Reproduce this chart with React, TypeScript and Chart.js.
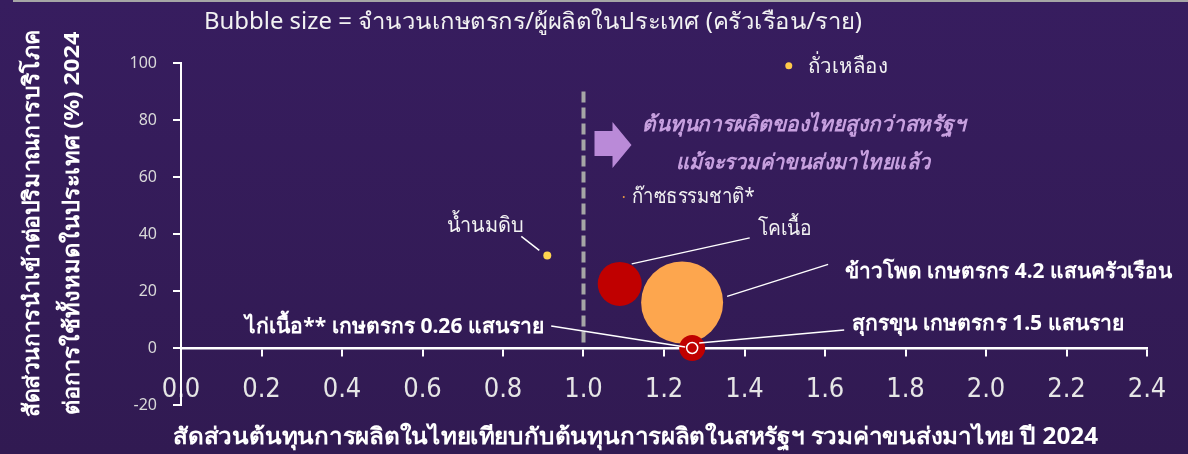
import React, { useEffect, useRef } from 'react';
import { Chart, registerables } from 'chart.js';

Chart.register(...registerables);

// ---------- data ----------
const itemNames = ['ถั่วเหลือง', 'น้ำนมดิบ', 'ก๊าซธรรมชาติ*', 'โคเนื้อ', 'ข้าวโพด', 'สุกรขุน', 'ไก่เนื้อ'];
const costRatio = [1.51, 0.91, 1.10, 1.09, 1.245, 1.27, 1.27];
const importShare = [99, 32.5, 53, 22.5, 16, 0, 0];
const bubbleRadius = [3.5, 4, 1, 22, 41, 13, 5.5];
const bubbleColors = ['#FFC94A', '#FFD54F', '#F0A040', '#C00000', '#FDA64E', '#C00000', '#C00000'];
const bubbleBorders = [0, 0, 0, 0, 0, 0, 1.5];

const xMin = 0, xMax = 2.4, xStep = 0.2;
const yMin = -20, yMax = 100, yStep = 20;
const thresholdX = 1.0;
const thresholdYRange = [1, 90];

const chartTitle = 'Bubble size = จำนวนเกษตรกร/ผู้ผลิตในประเทศ (ครัวเรือน/ราย)';
const yTitleLines = ['สัดส่วนการนำเข้าต่อปริมาณการบริโภค', 'ต่อการใช้ทั้งหมดในประเทศ (%) 2024'];
const xTitle = 'สัดส่วนต้นทุนการผลิตในไทยเทียบกับต้นทุนการผลิตในสหรัฐฯ รวมค่าขนส่งมาไทย ปี 2024';
const noteLines = ['ต้นทุนการผลิตของไทยสูงกว่าสหรัฐฯ', 'แม้จะรวมค่าขนส่งมาไทยแล้ว'];

// label text per point (display text), with layout offsets (pixels from point centre)
const pointLabels = [
  { text: 'ถั่วเหลือง', dx: 19, dy: 1, align: 'left', bold: false, w: 80, leader: null },
  { text: 'น้ำนมดิบ', dx: -62, dy: -29, align: 'center', bold: false, w: 77, leader: [-26, -19, -8, -5] },
  { text: 'ก๊าซธรรมชาติ*', dx: 8, dy: 0, align: 'left', bold: false, w: 123, leader: null },
  { text: 'โคเนื้อ', dx: 138, dy: -55, align: 'left', bold: false, w: 54, leader: [130, -46, 12, -20] },
  { text: 'ข้าวโพด เกษตรกร 4.2 แสนครัวเรือน', dx: 163, dy: -30, align: 'left', bold: true, w: 327, leader: [146, -38, 45, -6] },
  { text: 'สุกรขุน เกษตรกร 1.5 แสนราย', dx: 160, dy: -24, align: 'left', bold: true, w: 272, leader: [152, -18, 7, -5] },
  { text: 'ไก่เนื้อ** เกษตรกร 0.26 แสนราย', dx: -148, dy: -21, align: 'right', bold: true, w: 299, leader: [-141, -22, -7, -1] },
];

const FONT = '"Noto Sans", "Liberation Sans", sans-serif';

function fitText(ctx: CanvasRenderingContext2D, text: string, x: number, y: number, w: number, align: CanvasTextAlign) {
  const m = ctx.measureText(text).width || 1;
  const s = w / m;
  ctx.save();
  ctx.translate(x, y);
  ctx.scale(s, 1);
  ctx.textAlign = align;
  ctx.fillText(text, 0, 0);
  ctx.restore();
}

const decorPlugin = {
  id: 'decor',
  beforeDraw(chart: any) {
    const { ctx, width, height } = chart;
    ctx.save();
    const g = ctx.createLinearGradient(0, 0, 0, height);
    g.addColorStop(0, '#371D5F');
    g.addColorStop(1, '#311A52');
    ctx.fillStyle = g;
    ctx.fillRect(0, 0, width, height);
    ctx.fillStyle = '#A6A6A6';
    ctx.fillRect(13, 0, width - 13, 2);
    ctx.restore();
  },
  beforeDatasetsDraw(chart: any) {
    const { ctx } = chart;
    const xs = chart.scales.x, ys = chart.scales.y;
    const px = xs.getPixelForValue(thresholdX);
    ctx.save();
    ctx.strokeStyle = '#A6A6A6';
    ctx.lineWidth = 4;
    ctx.setLineDash([11, 5]);
    ctx.beginPath();
    ctx.moveTo(px, ys.getPixelForValue(thresholdYRange[1]));
    ctx.lineTo(px, ys.getPixelForValue(thresholdYRange[0]));
    ctx.stroke();
    ctx.restore();
  },
  afterDraw(chart: any) {
    const { ctx } = chart;
    const xs = chart.scales.x, ys = chart.scales.y;
    ctx.save();
    ctx.textBaseline = 'middle';

    // top title
    ctx.fillStyle = '#F2F2F2';
    ctx.font = `23px ${FONT}`;
    fitText(ctx, chartTitle, 204, 22, 658, 'left');

    // y title (rotated)
    ctx.save();
    ctx.translate(0, 223);
    ctx.rotate(-Math.PI / 2);
    ctx.font = `bold 22px ${FONT}`;
    ctx.fillStyle = '#FFFFFF';
    fitText(ctx, yTitleLines[0], 0, 33, 388, 'center');
    fitText(ctx, yTitleLines[1], 0, 73, 383, 'center');
    ctx.restore();

    // x title
    ctx.font = `bold 23px ${FONT}`;
    ctx.fillStyle = '#FFFFFF';
    fitText(ctx, xTitle, 173, 437, 925, 'left');

    // note arrow + text
    const px1 = xs.getPixelForValue(thresholdX);
    const ax = px1 + 11;
    ctx.fillStyle = '#BA8AD8';
    ctx.beginPath();
    ctx.moveTo(ax, 131);
    ctx.lineTo(ax + 18, 131);
    ctx.lineTo(ax + 18, 122);
    ctx.lineTo(ax + 37, 145);
    ctx.lineTo(ax + 18, 168);
    ctx.lineTo(ax + 18, 156);
    ctx.lineTo(ax, 156);
    ctx.closePath();
    ctx.fill();
    ctx.fillStyle = '#C7A0DF';
    ctx.font = `italic bold 21px ${FONT}`;
    fitText(ctx, noteLines[0], 804, 125, 324, 'center');
    fitText(ctx, noteLines[1], 803, 163, 255, 'center');

    // point labels & leaders
    ctx.strokeStyle = '#FFFFFF';
    ctx.lineWidth = 1.5;
    pointLabels.forEach((lab, i) => {
      const cx = xs.getPixelForValue(costRatio[i]);
      const cy = ys.getPixelForValue(importShare[i]);
      if (lab.leader) {
        ctx.beginPath();
        ctx.moveTo(cx + lab.leader[0], cy + lab.leader[1]);
        ctx.lineTo(cx + lab.leader[2], cy + lab.leader[3]);
        ctx.stroke();
      }
      ctx.fillStyle = lab.bold ? '#FFFFFF' : '#F2F2F2';
      ctx.font = `${lab.bold ? 'bold ' : ''}21px ${FONT}`;
      fitText(ctx, lab.text, cx + lab.dx, cy + lab.dy, lab.w, lab.align as CanvasTextAlign);
    });
    ctx.restore();
  },
};

export default function App() {
  const ref = useRef<HTMLCanvasElement>(null);
  useEffect(() => {
    if (!ref.current) return;
    const chart = new Chart(ref.current, {
      type: 'bubble',
      data: {
        datasets: [
          {
            label: 'items',
            data: itemNames.map((n, i) => ({ x: costRatio[i], y: importShare[i], r: bubbleRadius[i] })),
            backgroundColor: bubbleColors,
            borderColor: '#FFFFFF',
            borderWidth: bubbleBorders,
            clip: false,
          } as any,
        ],
      },
      options: {
        animation: false,
        responsive: false,
        events: [],
        layout: { padding: { top: 63, bottom: 49, right: 38, left: 0 } },
        plugins: { legend: { display: false }, tooltip: { enabled: false }, title: { display: false } },
        scales: {
          x: {
            type: 'linear',
            min: xMin,
            max: xMax,
            position: { y: 0 } as any,
            border: { display: true, color: '#FFFFFF', width: 2.5 },
            grid: { display: true, drawOnChartArea: false, drawTicks: true, tickLength: 7, color: '#FFFFFF', lineWidth: 2 },
            ticks: {
              stepSize: xStep,
              padding: 19,
              color: '#E6E6E6',
              font: { family: '"Liberation Sans Narrow", "DejaVu Sans Condensed", sans-serif', size: 27 },
              callback: (v: any) => Number(v).toFixed(1),
            },
          },
          y: {
            type: 'linear',
            min: yMin,
            max: yMax,
            afterFit: (s: any) => { s.width = 181; },
            border: { display: true, color: '#FFFFFF', width: 2 },
            grid: { display: true, drawOnChartArea: false, drawTicks: true, tickLength: 8, color: '#FFFFFF', lineWidth: 2 },
            ticks: {
              stepSize: yStep,
              padding: 16,
              color: '#D9D9D9',
              font: { family: '"Noto Sans", "Liberation Sans", sans-serif', size: 16 },
            },
          },
        },
      },
      plugins: [decorPlugin],
    });
    return () => chart.destroy();
  }, []);
  return (
    <div style={{ position: 'fixed', left: 0, top: 0, width: 1188, height: 454 }}>
      <canvas ref={ref} width={1188} height={454} style={{ width: 1188, height: 454, display: 'block' }} />
    </div>
  );
}
